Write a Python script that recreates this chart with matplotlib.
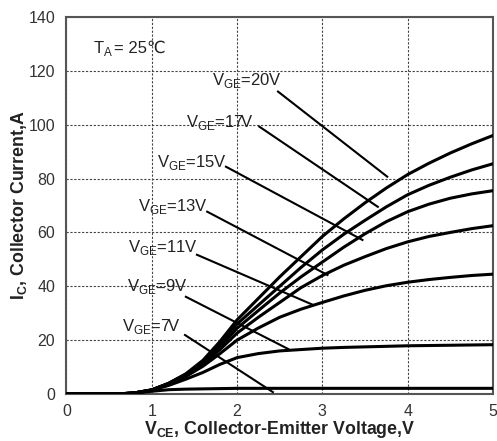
import matplotlib
matplotlib.use("Agg")
import matplotlib.pyplot as plt

plt.rcParams['font.family'] = ['Liberation Sans', 'DejaVu Sans']
plt.rcParams['mathtext.fontset'] = 'custom'
plt.rcParams['mathtext.rm'] = 'Liberation Sans'
plt.rcParams['mathtext.bf'] = 'Liberation Sans:bold'

# Collector-emitter voltage samples (V)
vce = [0, 0.6, 0.8, 1.0, 1.2, 1.4, 1.6, 1.8, 2.0, 2.25, 2.5, 2.75, 3.0,
       3.25, 3.5, 3.75, 4.0, 4.25, 4.5, 4.75, 5.0]

# Collector current (A) for each gate-emitter voltage
ic_20v = [0, 0, 0.4, 1.5, 4.0, 7.5, 12.5, 19.5, 27.5, 35.5, 43.5, 51.0, 58.5,
          65.0, 71.0, 76.5, 81.5, 85.7, 89.5, 92.9, 96.0]
ic_17v = [0, 0, 0.4, 1.5, 4.0, 7.3, 12.0, 18.5, 26.0, 33.0, 40.0, 47.0, 53.5,
          59.3, 64.5, 69.5, 74.0, 77.5, 80.5, 83.2, 85.5]
ic_15v = [0, 0, 0.4, 1.5, 3.9, 7.1, 11.5, 17.5, 24.4, 31.0, 37.5, 43.5, 49.0,
          54.5, 59.5, 64.0, 67.7, 70.5, 72.7, 74.3, 75.5]
ic_13v = [0, 0, 0.4, 1.5, 3.8, 6.9, 11.0, 16.5, 22.6, 28.5, 34.0, 39.5, 44.0,
          47.8, 51.0, 54.0, 56.5, 58.5, 60.0, 61.4, 62.5]
ic_11v = [0, 0, 0.4, 1.5, 3.7, 6.5, 10.3, 15.0, 20.0, 24.5, 28.5, 31.5, 34.0,
          36.4, 38.5, 40.2, 41.5, 42.5, 43.3, 44.0, 44.5]
ic_9v = [0, 0, 0.4, 1.4, 3.2, 5.5, 8.0, 11.0, 13.5, 15.0, 16.0, 16.5, 17.0,
         17.3, 17.5, 17.7, 17.9, 18.0, 18.1, 18.2, 18.3]
ic_7v = [0, 0, 0.3, 1.0, 1.6, 1.8, 1.9, 2.0, 2.1, 2.1, 2.1, 2.1, 2.1,
         2.1, 2.1, 2.1, 2.1, 2.1, 2.1, 2.1, 2.1]

series = [ic_20v, ic_17v, ic_15v, ic_13v, ic_11v, ic_9v, ic_7v]
vge_labels = ['20V', '17V', '15V', '13V', '11V', '9V', '7V']

x_ticks = [0, 1, 2, 3, 4, 5]
y_ticks = [0, 20, 40, 60, 80, 100, 120, 140]

fig = plt.figure(figsize=(4.97, 4.41), dpi=100)
ax = fig.add_axes([0.1336, 0.1066, 0.8584, 0.8549])

for ic in series:
    ax.plot(vce, ic, color='black', lw=2.2, solid_capstyle='round',
            solid_joinstyle='round', zorder=3)

# label text position (left, centre) and leader line start/end
label_layout = [
    ((1.71, 116.4), (2.48, 112.3), (3.76, 80.7)),
    ((1.40, 100.7), (2.26, 99.3), (3.65, 69.5)),
    ((1.06, 85.9), (1.87, 84.4), (3.47, 57.2)),
    ((0.84, 69.5), (1.65, 67.7), (3.06, 44.2)),
    ((0.72, 54.3), (1.53, 51.7), (2.89, 33.1)),
    ((0.71, 39.8), (1.40, 36.1), (2.60, 16.7)),
    ((0.65, 24.9), (1.39, 21.9), (2.42, 0.7)),
]
for lab, (txt, p0, p1) in zip(vge_labels, label_layout):
    ax.text(txt[0], txt[1], r'V$_{\mathregular{GE}}$=' + lab, fontsize=12,
            color='#222222', ha='left', va='center', zorder=4)
    ax.plot([p0[0], p1[0]], [p0[1], p1[1]], color='black', lw=1.5, zorder=3)

t_amb = ax.text(0.31, 128.3, r'T$_{\mathregular{A}}$', fontsize=12,
                color='#222222', ha='left', va='center')
ax.annotate('= 25℃', xy=(1.0, 0.5), xycoords=t_amb, xytext=(1, 0),
            textcoords='offset points', fontsize=12, color='#222222',
            ha='left', va='center')

ax.set_xlim(0, 5)
ax.set_ylim(0, 140)
ax.set_xticks(x_ticks)
ax.set_yticks(y_ticks)
ax.tick_params(axis='y', length=0, labelsize=11.5, labelcolor='#333333', pad=8)
ax.tick_params(axis='x', length=0, labelsize=11.5, labelcolor='#333333', pad=7)
ax.grid(True, color='#444444', lw=0.8, ls=(0, (2, 1.5)))
ax.set_axisbelow(True)
for sp in ax.spines.values():
    sp.set_color('#555555')
    sp.set_linewidth(1.5)

ax.set_xlabel(r'V$_{\mathregular{CE}}$, Collector-Emitter Voltage,V',
              fontsize=12.8, fontweight='bold', color='#222222', labelpad=0)
ax.set_ylabel(r'I$_{\mathregular{C}}$, Collector Current,A',
              fontsize=12.8, fontweight='bold', color='#222222', labelpad=0)

fig.savefig('out.png', dpi=100)
